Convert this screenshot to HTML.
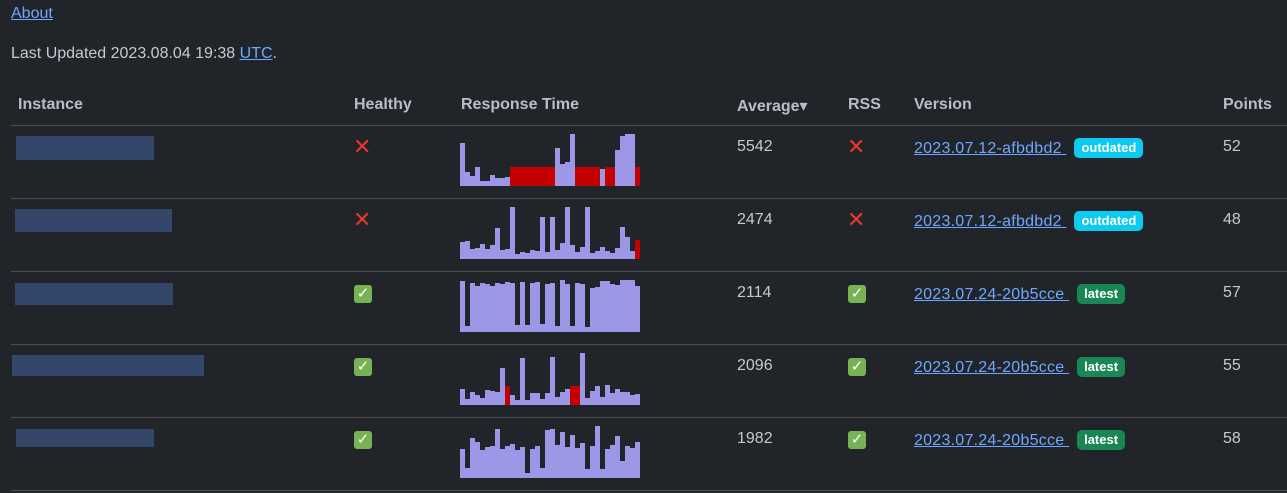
<!DOCTYPE html>
<html><head><meta charset="utf-8">
<style>
html,body{margin:0;padding:0;width:1287px;height:493px;overflow:hidden;background:#212529;font-family:"Liberation Sans","DejaVu Sans",sans-serif;font-size:16px;color:#c5cad0;}
.a{position:absolute;white-space:nowrap;}
a{color:#6ea8fe;text-decoration:underline;}
.h{font-weight:bold;color:#b8bec5;top:96px;}
.v{margin-top:2px;}
.line{position:absolute;left:11px;width:1276px;height:1px;background:#4a4e53;}
.blur{position:absolute;background:#34476a;}
.x{color:#e8372c;font-weight:bold;font-size:22px;}
.ok{display:inline-block;width:18px;height:18px;background:#77b255;border-radius:3px;color:#fff;font-size:15px;font-weight:bold;text-align:center;line-height:18px;}
.badge{display:inline-block;font-size:13px;font-weight:bold;color:#fff;border-radius:5px;padding:0 7px;height:20px;line-height:20px;margin-left:8px;vertical-align:1px;}
.ver a{letter-spacing:0.25px;}
.out{background:#0dcaf0;}.lat{background:#198754;}
svg{position:absolute;left:460px;}
</style></head><body>
<div class="a" style="left:11px;top:5px"><a>About</a></div>
<div class="a" style="left:11px;top:45px">Last Updated 2023.08.04 19:38 <a>UTC</a>.</div>

<div class="a h" style="left:18px">Instance</div>
<div class="a h" style="left:354px">Healthy</div>
<div class="a h" style="left:461px">Response Time</div>
<div class="a h" style="left:737px">Average▾</div>
<div class="a h" style="left:848px">RSS</div>
<div class="a h" style="left:914px">Version</div>
<div class="a h" style="left:1223px">Points</div>

<div class="line" style="top:125px"></div>
<div class="line" style="top:198px"></div>
<div class="line" style="top:271px"></div>
<div class="line" style="top:344px"></div>
<div class="line" style="top:417px"></div>
<div class="line" style="top:490px"></div>

<div class="blur" style="left:16px;top:136px;width:138px;height:24px"></div>
<div class="blur" style="left:15px;top:209px;width:157px;height:23px"></div>
<div class="blur" style="left:15px;top:283px;width:158px;height:22px"></div>
<div class="blur" style="left:12px;top:355px;width:192px;height:21px"></div>
<div class="blur" style="left:16px;top:429px;width:138px;height:18px"></div>

<div class="a x" style="left:353px;top:134px">✕</div>
<div class="a x" style="left:353px;top:207px">✕</div>
<div class="a" style="left:354px;top:285px"><span class="ok">✓</span></div>
<div class="a" style="left:354px;top:358px"><span class="ok">✓</span></div>
<div class="a" style="left:354px;top:431px"><span class="ok">✓</span></div>

<div class="a" style="left:737px;top:138px">5542</div>
<div class="a" style="left:737px;top:211px">2474</div>
<div class="a" style="left:737px;top:284px">2114</div>
<div class="a" style="left:737px;top:357px">2096</div>
<div class="a" style="left:737px;top:430px">1982</div>

<div class="a x" style="left:847px;top:134px">✕</div>
<div class="a x" style="left:847px;top:207px">✕</div>
<div class="a" style="left:848px;top:285px"><span class="ok">✓</span></div>
<div class="a" style="left:848px;top:358px"><span class="ok">✓</span></div>
<div class="a" style="left:848px;top:431px"><span class="ok">✓</span></div>

<div class="a ver" style="left:914px;top:138px"><a>2023.07.12-afbdbd2 </a><span class="badge out">outdated</span></div>
<div class="a ver" style="left:914px;top:211px"><a>2023.07.12-afbdbd2 </a><span class="badge out">outdated</span></div>
<div class="a ver" style="left:914px;top:284px"><a>2023.07.24-20b5cce </a><span class="badge lat">latest</span></div>
<div class="a ver" style="left:914px;top:357px"><a>2023.07.24-20b5cce </a><span class="badge lat">latest</span></div>
<div class="a ver" style="left:914px;top:430px"><a>2023.07.24-20b5cce </a><span class="badge lat">latest</span></div>

<div class="a" style="left:1223px;top:138px">52</div>
<div class="a" style="left:1223px;top:211px">48</div>
<div class="a" style="left:1223px;top:284px">57</div>
<div class="a" style="left:1223px;top:357px">55</div>
<div class="a" style="left:1223px;top:430px">58</div>

<script>
const times1=[43,14,10,19,5,5,11,8,8,9,19,19,19,19,19,19,19,19,19,38,22,24,52,19,19,19,19,19,17,19,19,36,50,52,52,19];
const fail1=[0,0,0,0,0,0,0,0,0,0,1,1,1,1,1,1,1,1,1,0,0,0,0,1,1,1,1,1,0,1,1,0,0,0,0,1];
const times2=[17,18,10,11,15,10,14,31,9,10,52,5,7,6,9,8,42,7,42,9,16,52,14,7,12,52,6,8,12,8,6,11,32,22,8,19];
const fail2=[0,0,0,0,0,0,0,0,0,0,0,0,0,0,0,0,0,0,0,0,0,0,0,0,0,0,0,0,0,0,0,0,0,0,0,1];
const times3=[51,6,49,46,49,48,46,49,48,50,49,7,50,7,49,50,8,48,49,6,52,48,6,49,48,5,44,45,51,51,48,47,52,52,52,46];
const fail3=[0,0,0,0,0,0,0,0,0,0,0,0,0,0,0,0,0,0,0,0,0,0,0,0,0,0,0,0,0,0,0,0,0,0,0,0];
const times4=[16,6,13,10,7,15,14,13,37,19,10,5,47,5,12,12,6,12,48,8,13,16,19,19,52,7,14,19,8,20,12,16,13,13,10,11];
const fail4=[0,0,0,0,0,0,0,0,0,1,0,0,0,0,0,0,0,0,0,0,0,0,1,1,0,0,0,0,0,0,0,0,0,0,0,0];
const times5=[29,10,40,36,28,31,32,49,29,32,34,28,31,5,29,32,10,48,49,33,46,31,43,30,35,9,32,52,9,29,33,42,17,32,30,36];
const fail5=[0,0,0,0,0,0,0,0,0,0,0,0,0,0,0,0,0,0,0,0,0,0,0,0,0,0,0,0,0,0,0,0,0,0,0,0];
const series=[times1,times2,times3,times4,times5];
const fails=[fail1,fail2,fail3,fail4,fail5];
const bottoms=[186,259,332,405,478];
const NS="http://www.w3.org/2000/svg";
const H=54,BW=5,YMAX=52;
function yScale(v){return H-v/YMAX*(H-2);}
function xScale(i){return i*BW;}
series.forEach((vals,r)=>{
  const svg=document.createElementNS(NS,"svg");
  
  
  svg.setAttribute("width",181);svg.setAttribute("height",H);
  svg.style.top=(bottoms[r]-H)+"px";
  vals.forEach((v,i)=>{
    const rect=document.createElementNS(NS,"rect");
    
    
    const y=yScale(v);
    rect.setAttribute("x",xScale(i));rect.setAttribute("y",y);
    rect.setAttribute("width",BW);rect.setAttribute("height",H-y);
    rect.setAttribute("fill",fails[r][i]?"#c50000":"#9d97e8");
    svg.appendChild(rect);
  });
  document.body.appendChild(svg);
});
</script>
</body></html>
